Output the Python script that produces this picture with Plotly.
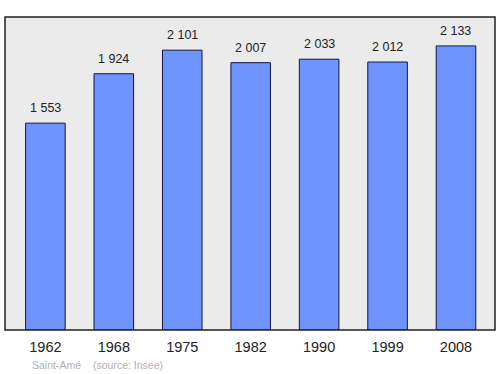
import plotly.graph_objects as go

years = ["1962", "1968", "1975", "1982", "1990", "1999", "2008"]
population = [1553, 1924, 2101, 2007, 2033, 2012, 2133]
value_labels = ["1 553", "1 924", "2 101", "2 007", "2 033", "2 012", "2 133"]
commune = "Saint-Amé"
source = "(source: Insee)"

xs = list(range(len(years)))

fig = go.Figure()
fig.add_trace(go.Bar(
    x=xs, y=population, width=0.578,
    marker=dict(color="#7094ff", line=dict(color="#14143c", width=1)),
    hoverinfo="skip",
))

for x, v, lab in zip(xs, population, value_labels):
    fig.add_annotation(x=x, y=v, text=lab, showarrow=False, yanchor="middle",
                       yshift=15, font=dict(size=12.5, color="#222", family="Liberation Sans, Arial"))

fig.update_layout(
    width=500, height=374,
    margin=dict(l=5, r=5, t=17, b=44),
    paper_bgcolor="white", plot_bgcolor="#ebebeb",
    showlegend=False,
    font=dict(family="Liberation Sans, Arial"),
    xaxis=dict(range=[-0.59, 6.57], tickvals=xs, ticktext=years, showgrid=False,
               zeroline=False, ticks="", tickfont=dict(size=14.5, color="#222"), ticklabelstandoff=6),
    yaxis=dict(range=[0, 2350], showgrid=False, zeroline=False, showticklabels=False),
)

fig.add_shape(type="rect", xref="paper", yref="paper", x0=0, x1=1, y0=0, y1=1,
              line=dict(color="#222", width=1.5), layer="above")

fig.add_annotation(xref="paper", yref="paper", x=(30 - 5) / 490, y=-35 / 313.3, text=commune,
                   showarrow=False, xanchor="left", yanchor="middle",
                   font=dict(size=10.5, color="#b0b0b0"))
fig.add_annotation(xref="paper", yref="paper", x=(91 - 5) / 490, y=-35 / 313.3, text=source,
                   showarrow=False, xanchor="left", yanchor="middle",
                   font=dict(size=10.5, color="#b0b0b0"))

fig.write_html("out.html")
